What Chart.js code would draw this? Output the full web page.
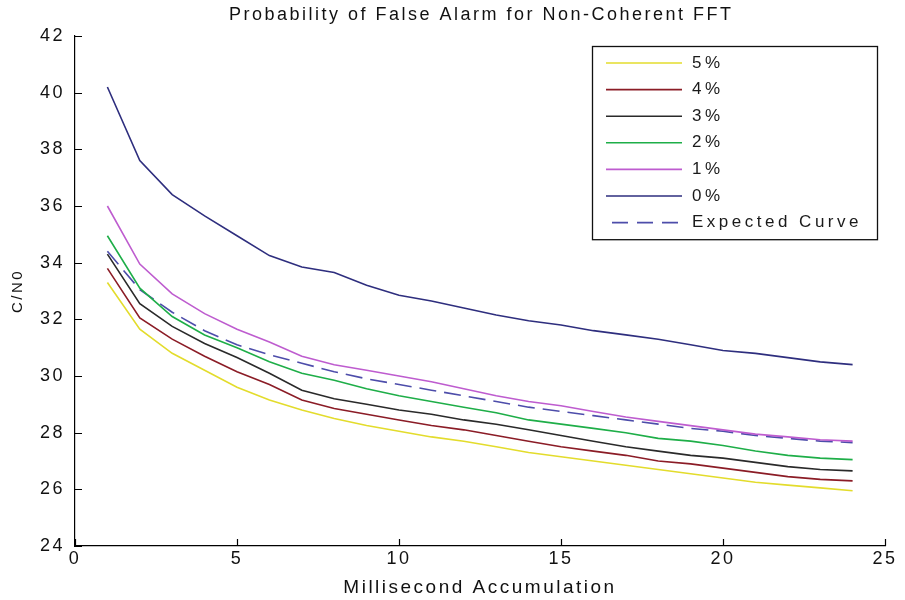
<!DOCTYPE html>
<html>
<head>
<meta charset="utf-8">
<title>Probability of False Alarm for Non-Coherent FFT</title>
<script src="https://cdn.jsdelivr.net/npm/chart.js@4.4.1/dist/chart.umd.min.js"></script>
<style>
  html, body { margin: 0; padding: 0; background: #fff; }
  #wrap { width: 905px; height: 600px; position: relative; }
</style>
</head>
<body>
<div id="wrap"><canvas id="pfaChart"></canvas></div>
<script>
// milliseconds of non-coherent accumulation
const msAccum = [1, 2, 3, 4, 5, 6, 7, 8, 9, 10, 11, 12, 13, 14, 15, 16, 17, 18, 19, 20, 21, 22, 23, 24];

// required C/N0 (dB-Hz) for each false-alarm rate
const pfa5 = [33.3, 31.65, 30.8, 30.2, 29.6, 29.15, 28.8, 28.5, 28.25, 28.05, 27.85, 27.7, 27.5, 27.3, 27.15, 27.0, 26.85, 26.7, 26.55, 26.4, 26.25, 26.15, 26.05, 25.95];
const pfa4 = [33.8, 32.05, 31.3, 30.7, 30.15, 29.7, 29.15, 28.85, 28.65, 28.45, 28.25, 28.1, 27.9, 27.7, 27.5, 27.35, 27.2, 27.0, 26.9, 26.75, 26.6, 26.45, 26.35, 26.3];
const pfa3 = [34.3, 32.55, 31.75, 31.15, 30.65, 30.1, 29.5, 29.2, 29.0, 28.8, 28.65, 28.45, 28.3, 28.1, 27.9, 27.7, 27.5, 27.35, 27.2, 27.1, 26.95, 26.8, 26.7, 26.65];
const pfa2 = [34.95, 33.1, 32.1, 31.45, 31.0, 30.5, 30.1, 29.85, 29.55, 29.3, 29.1, 28.9, 28.7, 28.45, 28.3, 28.15, 28.0, 27.8, 27.7, 27.55, 27.35, 27.2, 27.1, 27.05];
const pfa1 = [36.0, 33.95, 32.9, 32.2, 31.65, 31.2, 30.7, 30.4, 30.2, 30.0, 29.8, 29.55, 29.3, 29.1, 28.95, 28.75, 28.55, 28.4, 28.25, 28.1, 27.95, 27.85, 27.75, 27.7];
const pfa0 = [40.2, 37.6, 36.4, 35.65, 34.95, 34.25, 33.85, 33.65, 33.2, 32.85, 32.65, 32.4, 32.15, 31.95, 31.8, 31.6, 31.45, 31.3, 31.1, 30.9, 30.8, 30.65, 30.5, 30.4];
const expected = [34.4, 33.05, 32.25, 31.6, 31.1, 30.75, 30.45, 30.15, 29.9, 29.7, 29.5, 29.3, 29.1, 28.9, 28.75, 28.6, 28.45, 28.3, 28.15, 28.05, 27.9, 27.8, 27.7, 27.65];

const seriesNames = ["5%", "4%", "3%", "2%", "1%", "0%", "Expected Curve"];
const seriesValues = [pfa5, pfa4, pfa3, pfa2, pfa1, pfa0, expected];
const colors = ["#e3dc2c", "#8b1c26", "#2a2a2a", "#1eae48", "#be5ccf", "#2e2e7e", "#4d4daa"];

const xTicks = [0, 5, 10, 15, 20, 25];
const yTicks = [24, 26, 28, 30, 32, 34, 36, 38, 40, 42];

const chartTitle = "Probability of False Alarm for Non-Coherent FFT";
const FONT = "'Liberation Sans', Arial, Helvetica, sans-serif";
const SPACING = 2.5;

const datasets = seriesNames.map((name, i) => ({
    label: name,
    data: msAccum.map((ms, j) => ({ x: ms, y: seriesValues[i][j] })),
    borderColor: colors[i],
    backgroundColor: colors[i],
    borderWidth: 1.6,
    borderDash: name === "Expected Curve" ? [17, 8] : [],
    pointRadius: 0,
    tension: 0,
    fill: false
}));

// wide glyph spacing for every label on the canvas
const spacingPlugin = {
    id: "spacing",
    beforeLayout(chart) { chart.ctx.letterSpacing = SPACING + "px"; },
    beforeDraw(chart) { chart.ctx.letterSpacing = SPACING + "px"; }
};

// title centred over the axes rather than the whole canvas
const axesTitle = {
    id: "axesTitle",
    afterDraw(chart) {
        const { ctx, chartArea } = chart;
        ctx.save();
        ctx.font = "18px " + FONT;
        ctx.letterSpacing = SPACING + "px";
        ctx.fillStyle = "#111";
        ctx.textAlign = "center";
        ctx.textBaseline = "middle";
        ctx.fillText(chartTitle, (chartArea.left + chartArea.right + SPACING) / 2, 15);
        ctx.restore();
    }
};

// tick marks pointing into the plot, on the left and bottom axes only
const innerTicks = {
    id: "innerTicks",
    afterDraw(chart) {
        const { ctx, chartArea, scales } = chart;
        ctx.save();
        ctx.strokeStyle = "#000";
        ctx.lineWidth = 1.2;
        ctx.beginPath();
        scales.x.ticks.forEach(t => {
            const px = Math.round(scales.x.getPixelForValue(t.value)) + 0.5;
            ctx.moveTo(px, chartArea.bottom);
            ctx.lineTo(px, chartArea.bottom - 7);
        });
        scales.y.ticks.forEach(t => {
            const py = Math.round(scales.y.getPixelForValue(t.value)) + 0.5;
            ctx.moveTo(chartArea.left, py);
            ctx.lineTo(chartArea.left + 7, py);
        });
        ctx.stroke();
        ctx.restore();
    }
};

// boxed legend in the upper right of the plot, short line samples
const boxLegend = {
    id: "boxLegend",
    afterDraw(chart) {
        const { ctx, chartArea } = chart;
        const sets = chart.data.datasets;
        const rowH = 26.6;
        const w = 285;
        const h = sets.length * rowH + 7;
        const left = chartArea.right - 8 - w;
        const top = chartArea.top + 10;

        ctx.save();
        ctx.fillStyle = "#fff";
        ctx.fillRect(left, top, w, h);
        ctx.strokeStyle = "#111";
        ctx.lineWidth = 1.3;
        ctx.strokeRect(left + 0.5, top + 0.5, w, h);

        ctx.font = "17px " + FONT;
        ctx.letterSpacing = "3.5px";
        ctx.textBaseline = "middle";
        ctx.textAlign = "left";
        sets.forEach((ds, i) => {
            const cy = top + 17 + i * rowH;
            ctx.strokeStyle = ds.borderColor;
            ctx.lineWidth = ds.borderWidth;
            ctx.setLineDash(ds.borderDash.length ? [16, 9] : []);
            ctx.beginPath();
            ctx.moveTo(left + (ds.borderDash.length ? 20 : 14), cy);
            ctx.lineTo(left + 90, cy);
            ctx.stroke();
            ctx.setLineDash([]);
            ctx.fillStyle = "#1a1a1a";
            ctx.fillText(ds.label, left + 100, cy);
        });
        ctx.restore();
    }
};

new Chart(document.getElementById("pfaChart"), {
    type: "line",
    data: { datasets },
    options: {
        responsive: true,
        maintainAspectRatio: false,
        animation: false,
        layout: { padding: { left: 0, right: 20, top: 36, bottom: 0 } },
        plugins: {
            legend: { display: false },
            tooltip: { enabled: false },
            title: { display: false }
        },
        scales: {
            x: {
                type: "linear",
                min: xTicks[0],
                max: xTicks[xTicks.length - 1],
                afterBuildTicks: scale => { scale.ticks = xTicks.map(v => ({ value: v })); },
                afterFit: scale => { scale.height = 54; },
                grid: { drawOnChartArea: false, drawTicks: false },
                border: { display: true, color: "#000", width: 1.2 },
                ticks: {
                    color: "#111",
                    padding: 2,
                    maxRotation: 0,
                    autoSkip: false,
                    font: { family: FONT, size: 18 }
                },
                title: {
                    display: true,
                    text: "Millisecond Accumulation",
                    color: "#111",
                    font: { family: FONT, size: 19 },
                    padding: { top: 0, bottom: 1 }
                }
            },
            y: {
                type: "linear",
                min: yTicks[0],
                max: yTicks[yTicks.length - 1],
                afterBuildTicks: scale => { scale.ticks = yTicks.map(v => ({ value: v })); },
                afterFit: scale => { scale.width = 75; },
                grid: { drawOnChartArea: false, drawTicks: false },
                border: { display: true, color: "#000", width: 1.2 },
                ticks: {
                    color: "#111",
                    padding: 10,
                    autoSkip: false,
                    font: { family: FONT, size: 18 }
                },
                title: {
                    display: true,
                    text: "C/N0",
                    color: "#111",
                    font: { family: FONT, size: 15 },
                    padding: { top: 9, bottom: 0 }
                }
            }
        }
    },
    plugins: [spacingPlugin, innerTicks, boxLegend, axesTitle]
});
</script>
</body>
</html>
